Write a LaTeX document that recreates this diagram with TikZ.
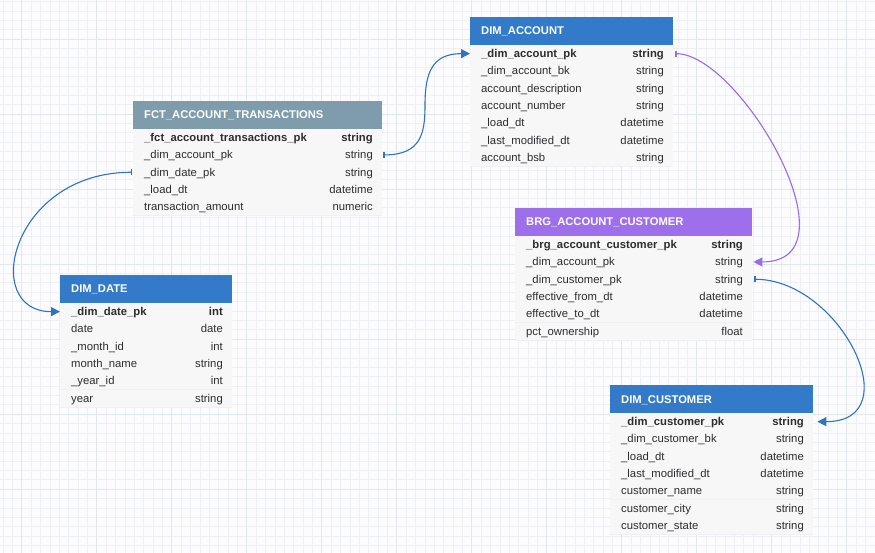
\documentclass[tikz,border=0pt]{standalone}
\usepackage{fontspec}
\setmainfont{Liberation Sans}
\usetikzlibrary{arrows.meta}
\definecolor{hdrblue}{RGB}{51,122,201}
\definecolor{hdrgray}{RGB}{127,156,173}
\definecolor{hdrpurple}{RGB}{157,111,235}
\definecolor{bgcol}{RGB}{252,252,254}
\definecolor{gridminor}{RGB}{238,240,246}
\definecolor{gridmajor}{RGB}{226,230,239}
\definecolor{bodyfill}{RGB}{247,247,248}
\definecolor{rowline}{RGB}{240,240,243}
\definecolor{txt}{RGB}{45,45,48}
\definecolor{linkblue}{RGB}{46,116,192}
\definecolor{linkpurple}{RGB}{150,108,232}
\tikzset{
  hdrbox/.style={fill=#1, inner sep=0pt, minimum height=28pt, anchor=north west},
  hdrtxt/.style={text=white, font=\fontsize{11.2}{13}\selectfont\bfseries, inner sep=0pt},
  rowbox/.style={fill=bodyfill, inner sep=0pt, minimum height=17.3pt, anchor=west},
  coltxt/.style={text=txt, font=\fontsize{11.3}{13}\selectfont, inner sep=0pt},
  rowsep/.style={draw=rowline, line width=0.5pt},
  link/.style={line width=1.1pt, {Bar[width=6pt]}-{Triangle[length=9pt,width=9pt]}},
}
\newcommand{\ertable}[7]{%
  \node[hdrbox=#5, minimum width=#4pt] (#1) at (#2,#3) {};
  \node[hdrtxt, anchor=base west] (#1-title) at ({#2+11},{#3+18}) {#6};
  \foreach \nm/\tp [count=\i] in {#7} {
    \node[rowbox, minimum width=#4pt] (#1-\i) at ({#2},{#3+36.65+(\i-1)*17.3}) {};
    \draw[rowsep] (#1-\i.south west) -- (#1-\i.south east);
    \node[coltxt, anchor=base west] (#1-\i-n) at ({#2+11},{#3+40.65+(\i-1)*17.3}) {\ifnum\i=1 \bfseries\fi\nm};
    \node[coltxt, anchor=base east] (#1-\i-t) at ({#2+#4-9},{#3+40.65+(\i-1)*17.3}) {\ifnum\i=1 \bfseries\fi\tp};
  }
}
\begin{document}
\begin{tikzpicture}[x=1pt,y=-1pt]
\useasboundingbox (0,0) rectangle (875,553);
\fill[bgcol] (0,0) rectangle (875,553);
\foreach \k in {-3,...,92} \draw[gridminor,line width=0.5pt] ({21.7+9.375*\k},0) -- ({21.7+9.375*\k},553);
\foreach \k in {-5,...,59} \draw[gridminor,line width=0.5pt] (0,{39+9.375*\k}) -- (875,{39+9.375*\k});
\foreach \k in {-1,...,11} \draw[gridmajor,line width=0.6pt] ({21.7+75*\k},0) -- ({21.7+75*\k},553);
\foreach \k in {-1,...,7} \draw[gridmajor,line width=0.6pt] (0,{39+75*\k}) -- (875,{39+75*\k});

\ertable{fct}{133}{101}{249}{hdrgray}{FCT\_ACCOUNT\_TRANSACTIONS}{\_fct\_account\_transactions\_pk/string, \_dim\_account\_pk/string, \_dim\_date\_pk/string, \_load\_dt/datetime, transaction\_amount/numeric}
\ertable{acc}{470}{17}{203}{hdrblue}{DIM\_ACCOUNT}{\_dim\_account\_pk/string, \_dim\_account\_bk/string, account\_description/string, account\_number/string, \_load\_dt/datetime, \_last\_modified\_dt/datetime, account\_bsb/string}
\ertable{date}{60}{275}{172}{hdrblue}{DIM\_DATE}{\_dim\_date\_pk/int, date/date, \_month\_id/int, month\_name/string, \_year\_id/int, year/string}
\ertable{brg}{515}{208}{237}{hdrpurple}{BRG\_ACCOUNT\_CUSTOMER}{\_brg\_account\_customer\_pk/string, \_dim\_account\_pk/string, \_dim\_customer\_pk/string, effective\_from\_dt/datetime, effective\_to\_dt/datetime, pct\_ownership/float}
\ertable{cust}{610}{385}{203}{hdrblue}{DIM\_CUSTOMER}{\_dim\_customer\_pk/string, \_dim\_customer\_bk/string, \_load\_dt/datetime, \_last\_modified\_dt/datetime, customer\_name/string, customer\_city/string, customer\_state/string}

\coordinate (bend1) at (425,105);
\draw[link, linkblue] ([xshift=1pt]fct-2.east) .. controls +(38,0) and +(0,28) .. (bend1) .. controls +(0,-32) and +(-38,0) .. (acc-1.west);
\draw[link, linkblue] ([xshift=-1pt]fct-3.west) .. controls +(-121,0) and +(-80,0) .. (date-1.west);
\draw[link, linkpurple] ([xshift=2pt]acc-1.east) .. controls +(65,0) and +(107,0) .. ([xshift=1pt]brg-2.east);
\draw[link, linkblue] ([xshift=2pt]brg-3.east) .. controls +(86,0) and +(93,0) .. ([xshift=4pt]cust-1.east);
\end{tikzpicture}
\end{document}
